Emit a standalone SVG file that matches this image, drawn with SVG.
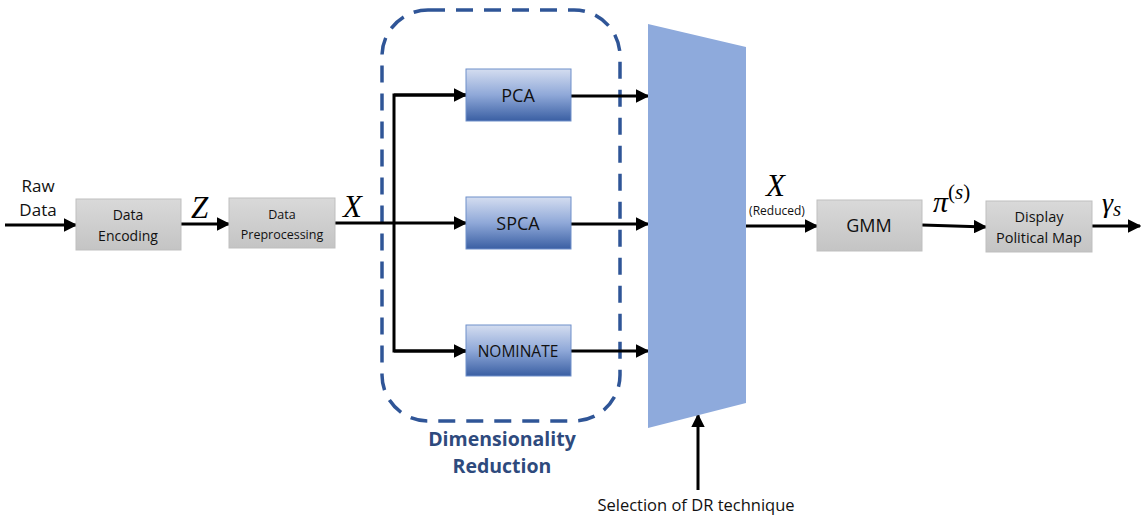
<svg xmlns="http://www.w3.org/2000/svg" width="1147" height="516" viewBox="0 0 1147 516">
<defs>
<linearGradient id="gray" x1="0" y1="0" x2="0" y2="1">
<stop offset="0" stop-color="#d9d9d9"/><stop offset="1" stop-color="#c4c4c4"/>
</linearGradient>
<linearGradient id="blue" x1="0" y1="0" x2="0" y2="1">
<stop offset="0" stop-color="#d4ddf0"/><stop offset="0.5" stop-color="#8fa8d8"/><stop offset="1" stop-color="#3a5fa3"/>
</linearGradient>
<marker id="ah" viewBox="0 0 10 10" refX="9" refY="5" markerWidth="4.5" markerHeight="4.5" orient="auto" markerUnits="strokeWidth">
<path d="M0,0 L10,5 L0,10 z" fill="#000"/>
</marker>
</defs>
<style>
.g{fill:url(#gray);stroke:#bfbfbf;stroke-width:1}
.b{fill:url(#blue);stroke:#6f8fca;stroke-width:1}
.t{font-family:"Open Sans","Liberation Sans",sans-serif;fill:#111;text-anchor:middle}
.m{font-family:"Liberation Serif",serif;font-style:italic;fill:#000}
.u{font-style:normal}
.c{stroke:#000;stroke-width:3;fill:none}
.a{marker-end:url(#ah)}
</style>
<rect width="1147" height="516" fill="#fff"/>
<g id="dr-group">
<rect x="382" y="10" width="238" height="411" rx="46" ry="46" fill="none" stroke="#2f5597" stroke-width="3.5" stroke-dasharray="17 11"/>
<text x="502" y="446" class="t" style="font-size:19.5px;font-weight:bold;fill:#2e4a7d">Dimensionality</text>
<text x="502" y="473" class="t" style="font-size:19.5px;font-weight:bold;fill:#2e4a7d">Reduction</text>
</g>
<g id="connectors">
<line x1="5" y1="225" x2="76" y2="225" class="c a"/>
<line x1="181" y1="224" x2="229" y2="224" class="c a"/>
<line x1="335" y1="223" x2="466" y2="223" class="c a"/>
<polyline points="466,95 394,95 394,351 466,351" class="c"/>
<line x1="394" y1="95" x2="466" y2="95" class="c a"/>
<line x1="394" y1="351" x2="466" y2="351" class="c a"/>
<line x1="571" y1="96" x2="648" y2="96" class="c a"/>
<line x1="571" y1="224" x2="648" y2="224" class="c a"/>
<line x1="571" y1="351" x2="648" y2="351" class="c a"/>
<line x1="746" y1="226" x2="817" y2="226" class="c a"/>
<line x1="922" y1="225" x2="986" y2="227" class="c a"/>
<line x1="1092" y1="226" x2="1140" y2="226" class="c a"/>
<line x1="698" y1="490" x2="698" y2="415" class="c a"/>
</g>
<g id="selector">
<polygon points="648,24 746,47 746,403 648,428" fill="#8eaadc"/>
</g>
<g id="raw-data">
<text x="38" y="192" class="t" style="font-size:17px">Raw</text>
<text x="38" y="216" class="t" style="font-size:17px">Data</text>
</g>
<g id="data-encoding">
<rect x="76" y="199" width="105" height="51" class="g"/>
<text x="128" y="220" class="t" style="font-size:14px">Data</text>
<text x="128" y="241" class="t" style="font-size:14px">Encoding</text>
</g>
<g id="data-preprocessing">
<rect x="229" y="198" width="106" height="50" class="g"/>
<text x="282" y="219" class="t" style="font-size:12.5px">Data</text>
<text x="282" y="239" class="t" style="font-size:12.5px">Preprocessing</text>
</g>
<g id="pca">
<rect x="466" y="69" width="105" height="52" class="b"/>
<text x="518" y="102" class="t" style="font-size:18px">PCA</text>
</g>
<g id="spca">
<rect x="466" y="197" width="105" height="52" class="b"/>
<text x="518" y="230" class="t" style="font-size:18px">SPCA</text>
</g>
<g id="nominate">
<rect x="466" y="325" width="105" height="51" class="b"/>
<text x="518" y="357" class="t" style="font-size:15.5px">NOMINATE</text>
</g>
<g id="gmm">
<rect x="817" y="200" width="105" height="51" class="g"/>
<text x="869" y="232" class="t" style="font-size:18px">GMM</text>
</g>
<g id="display-map">
<rect x="986" y="201" width="106" height="51" class="g"/>
<text x="1039" y="222" class="t" style="font-size:14.5px">Display</text>
<text x="1039" y="243" class="t" style="font-size:14.5px">Political Map</text>
</g>
<g id="labels">
<text x="191" y="218" class="m" style="font-size:31px">Z</text>
<text x="343" y="217" class="m" style="font-size:31px">X</text>
<text x="766" y="196" class="m" style="font-size:31px">X</text>
<text x="777" y="215" class="t" style="font-size:12px">(Reduced)</text>
<text x="933" y="212" class="m" style="font-size:30px">π<tspan dy="-13" font-size="21"><tspan class="u">(</tspan>s<tspan class="u">)</tspan></tspan></text>
<text x="1102" y="212" class="m" style="font-size:28px">γ<tspan dy="4" font-size="21">s</tspan></text>
<text x="696" y="511" class="t" style="font-size:16.5px">Selection of DR technique</text>
</g>
</svg>
